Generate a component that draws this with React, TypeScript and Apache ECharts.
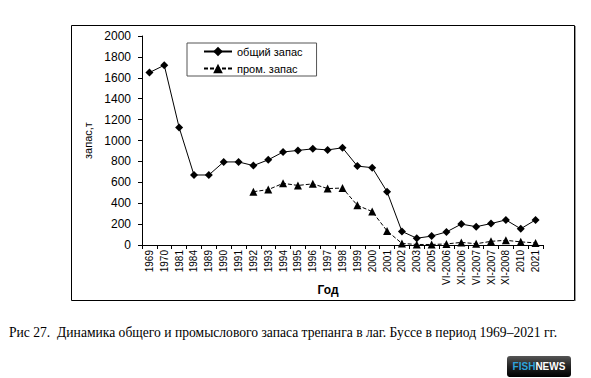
import React, { useEffect, useRef } from "react";
import * as echarts from "echarts";

const categories = [
  "1969", "1970", "1981", "1984", "1989", "1990", "1991", "1992", "1993", "1994",
  "1995", "1996", "1997", "1998", "1999", "2000", "2001", "2002", "2003", "2005",
  "VI-2006", "XI-2006", "VI-2007", "XI-2007", "XI-2008", "2010", "2021",
];
const totalStock = [
  1650, 1720, 1125, 670, 670, 795, 795, 760, 815, 890,
  905, 920, 910, 930, 755, 740, 510, 130, 65, 85,
  125, 200, 175, 205, 240, 155, 240,
];
const commercialStock = [
  null, null, null, null, null, null, null, 510, 530, 590,
  570, 585, 540, 545, 380, 320, 135, 15, 5, 5,
  10, 25, 12, 35, 45, 30, 20,
];
const seriesNames = ["общий запас", "пром. запас"];
const yTicks = { min: 0, max: 2000, interval: 200 };
const caption =
  "Рис 27.  Динамика общего и промыслового запаса трепанга в лаг. Буссе в период 1969–2021 гг.";

export default function App() {
  const ref = useRef<HTMLDivElement>(null);
  useEffect(() => {
    if (!ref.current) return;
    const chart = echarts.init(ref.current, null, { renderer: "svg" });
    const font = "Arial, 'Liberation Sans', sans-serif";
    chart.setOption({
      animation: false,
      backgroundColor: "#fff",
      textStyle: { fontFamily: font, color: "#000" },
      grid: { left: 142, right: 48, top: 36, bottom: 133 },
      legend: {
        left: 187,
        top: 43,
        orient: "vertical",
        padding: [3, 14, 2, 16],
        itemGap: 6,
        itemWidth: 28,
        itemHeight: 12,
        borderColor: "#555",
        borderWidth: 1,
        textStyle: { fontSize: 11, color: "#000", fontFamily: font },
        data: seriesNames,
      },
      xAxis: {
        type: "category",
        data: categories,
        boundaryGap: true,
        axisLine: { lineStyle: { color: "#000", width: 1 } },
        axisTick: { show: true, length: 4, lineStyle: { color: "#000" } },
        axisLabel: {
          rotate: 90,
          interval: 0,
          margin: 5,
          fontSize: 10,
          color: "#000",
          fontFamily: font,
        },
        splitLine: { show: false },
      },
      yAxis: {
        type: "value",
        min: yTicks.min,
        max: yTicks.max,
        interval: yTicks.interval,
        name: "запас,т",
        nameLocation: "middle",
        nameGap: 42,
        nameRotate: 90,
        nameTextStyle: { fontSize: 11, color: "#000", fontFamily: font },
        axisLine: { show: true, lineStyle: { color: "#000", width: 1 } },
        axisTick: { show: true, length: 4, lineStyle: { color: "#000" } },
        axisLabel: {
          margin: 11,
          fontSize: 12,
          color: "#000",
          fontFamily: font,
          formatter: (v: number) => String(v),
        },
        splitLine: { show: false },
      },
      series: [
        {
          name: seriesNames[0],
          type: "line",
          data: totalStock,
          symbol: "diamond",
          symbolSize: 8,
          itemStyle: { color: "#000" },
          lineStyle: { color: "#000", width: 1 },
        },
        {
          name: seriesNames[1],
          type: "line",
          data: commercialStock,
          symbol: "triangle",
          symbolSize: 8,
          itemStyle: { color: "#000" },
          lineStyle: { color: "#000", width: 1, type: [4, 2] },
        },
      ],
      graphic: [
        {
          type: "rect",
          shape: { x: 71.5, y: 25.5, width: 503, height: 275 },
          style: { fill: "none", stroke: "#000", lineWidth: 1 },
          silent: true,
        },
        {
          type: "line",
          shape: { x1: 575.5, y1: 26, x2: 575.5, y2: 301 },
          style: { stroke: "#999", lineWidth: 1 },
          silent: true,
        },
        {
          type: "text",
          x: 328,
          y: 290,
          style: {
            text: "Год",
            font: "bold 12px Arial, 'Liberation Sans', sans-serif",
            fill: "#000",
            align: "center",
            verticalAlign: "middle",
          },
        },
        {
          type: "text",
          x: 9,
          y: 332,
          style: {
            text: caption,
            font: "13.6px 'Times New Roman', 'Liberation Serif', serif",
            fill: "#000",
            align: "left",
            verticalAlign: "middle",
          },
        },
        {
          type: "rect",
          shape: { x: 507, y: 356, width: 64, height: 21, r: 3 },
          style: {
            fill: new echarts.graphic.LinearGradient(0, 0, 0, 1, [
              { offset: 0, color: "#555" },
              { offset: 0.5, color: "#222" },
              { offset: 1, color: "#000" },
            ]),
          },
          silent: true,
        },
        {
          type: "text",
          x: 539,
          y: 366.5,
          style: {
            text: "{a|FISH}{b|NEWS}",
            align: "center",
            verticalAlign: "middle",
            rich: {
              a: { fill: "#2ea3dc", font: "bold 10px Arial, 'Liberation Sans', sans-serif" },
              b: { fill: "#fff", font: "bold 10px Arial, 'Liberation Sans', sans-serif" },
            },
          },
        },
      ],
    });
    return () => chart.dispose();
  }, []);
  return (
    <div
      ref={ref}
      style={{ position: "fixed", left: 0, top: 0, width: 591, height: 378 }}
    />
  );
}
